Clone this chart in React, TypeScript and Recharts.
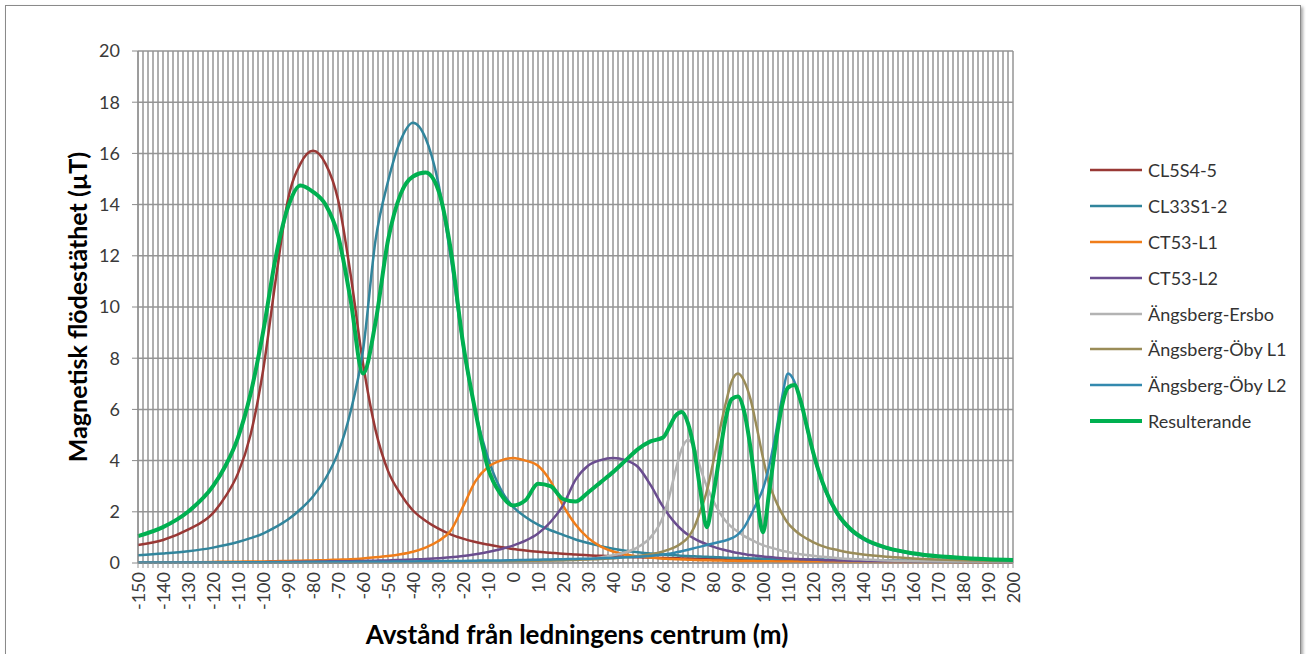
import React from 'react';
import { LineChart, Line, XAxis, YAxis, CartesianGrid, Legend } from 'recharts';

// Avstånd från ledningens centrum (m)
const distance = [
  -150, -140, -130, -120, -115, -110, -105, -100, -95, -90, -85, -80, -75, -70, -65, -60,
  -55, -50, -45, -40, -35, -30, -25, -20, -15, -10, -5, 0, 5, 10, 15, 20, 25, 30, 35, 40,
  45, 50, 55, 60, 62.5, 65, 67.5, 70, 72.5, 75, 77.5, 80, 82.5, 85, 87.5, 90, 92.5, 95,
  97.5, 100, 102.5, 105, 107.5, 110, 112.5, 115, 117.5, 120, 125, 130, 135, 140, 150,
  160, 170, 180, 190, 200,
];

// magnetisk flödestäthet (µT) per ledning
const cl5s45 = [
  0.7, 0.9, 1.3, 1.95, 2.6, 3.5, 5.0, 7.5, 11.0, 14.2, 15.6, 16.1, 15.6, 14.2, 11.3, 7.8,
  5.2, 3.6, 2.7, 2.05, 1.65, 1.35, 1.12, 0.95, 0.82, 0.72, 0.63, 0.55, 0.49, 0.44, 0.4, 0.36, 0.33, 0.3, 0.28, 0.26,
  0.24, 0.22, 0.21, 0.2, 0.19, 0.19, 0.18, 0.18, 0.17, 0.17, 0.16, 0.16, 0.15, 0.15, 0.15, 0.14, 0.14, 0.14,
  0.13, 0.13, 0.13, 0.12, 0.12, 0.12, 0.12, 0.11, 0.11, 0.11, 0.1, 0.1, 0.09, 0.09, 0.08,
  0.07, 0.07, 0.06, 0.06, 0.05,
];
const cl33s12 = [
  0.3, 0.37, 0.46, 0.6, 0.7, 0.82, 0.97, 1.15, 1.4, 1.7, 2.1, 2.6, 3.3, 4.3, 5.9, 8.3,
  12.6, 14.9, 16.5, 17.2, 16.6, 14.9, 12.0, 8.5, 5.9, 4.1, 2.9, 2.2, 1.8, 1.5, 1.28, 1.1, 0.92, 0.78, 0.66, 0.56,
  0.48, 0.42, 0.37, 0.33, 0.31, 0.3, 0.28, 0.27, 0.26, 0.25, 0.24, 0.23, 0.22, 0.21, 0.2, 0.2, 0.19, 0.18,
  0.18, 0.17, 0.17, 0.16, 0.16, 0.15, 0.15, 0.15, 0.14, 0.14, 0.13, 0.12, 0.12, 0.11, 0.1,
  0.09, 0.08, 0.07, 0.07, 0.06,
];
const ct53l1 = [
  0.02, 0.03, 0.03, 0.04, 0.05, 0.05, 0.06, 0.06, 0.07, 0.08, 0.09, 0.1, 0.11, 0.13, 0.15, 0.18,
  0.22, 0.27, 0.34, 0.44, 0.6, 0.85, 1.25, 2.2, 3.2, 3.75, 4.0, 4.1, 4.0, 3.8, 3.2, 2.25, 1.5, 0.98, 0.65, 0.45,
  0.33, 0.26, 0.21, 0.17, 0.16, 0.15, 0.14, 0.13, 0.12, 0.11, 0.11, 0.1, 0.1, 0.09, 0.09, 0.08, 0.08, 0.08,
  0.07, 0.07, 0.07, 0.06, 0.06, 0.06, 0.06, 0.05, 0.05, 0.05, 0.05, 0.04, 0.04, 0.04, 0.03,
  0.03, 0.03, 0.02, 0.02, 0.02,
];
const ct53l2 = [
  0.01, 0.01, 0.02, 0.02, 0.02, 0.03, 0.03, 0.03, 0.04, 0.04, 0.05, 0.05, 0.06, 0.07, 0.07, 0.08,
  0.09, 0.1, 0.12, 0.14, 0.16, 0.19, 0.22, 0.27, 0.34, 0.43, 0.54, 0.68, 0.87, 1.15, 1.6, 2.25, 3.25, 3.8, 4.02, 4.1,
  4.02, 3.75, 3.05, 2.2, 1.85, 1.55, 1.3, 1.1, 0.95, 0.83, 0.73, 0.64, 0.56, 0.5, 0.44, 0.39, 0.35, 0.31,
  0.28, 0.25, 0.23, 0.21, 0.19, 0.17, 0.16, 0.15, 0.14, 0.13, 0.11, 0.1, 0.09, 0.08, 0.07,
  0.06, 0.05, 0.04, 0.04, 0.03,
];
const angsbergErsbo = [
  0.01, 0.01, 0.01, 0.01, 0.01, 0.01, 0.02, 0.02, 0.02, 0.02, 0.02, 0.02, 0.02, 0.02, 0.02, 0.03,
  0.03, 0.03, 0.03, 0.03, 0.04, 0.04, 0.04, 0.05, 0.05, 0.05, 0.06, 0.06, 0.07, 0.08, 0.09, 0.1, 0.13, 0.16, 0.22, 0.3,
  0.42, 0.62, 1.0, 1.8, 2.6, 3.6, 4.45, 4.8, 4.5, 3.7, 3.0, 2.45, 2.0, 1.65, 1.4, 1.22, 1.05, 0.92,
  0.8, 0.7, 0.62, 0.55, 0.48, 0.43, 0.38, 0.34, 0.31, 0.28, 0.23, 0.19, 0.16, 0.14, 0.1,
  0.08, 0.06, 0.05, 0.05, 0.04,
];
const angsbergObyL1 = [
  0.01, 0.01, 0.01, 0.01, 0.01, 0.01, 0.01, 0.01, 0.02, 0.02, 0.02, 0.02, 0.02, 0.02, 0.02, 0.03,
  0.03, 0.03, 0.03, 0.04, 0.04, 0.04, 0.05, 0.05, 0.06, 0.06, 0.07, 0.07, 0.08, 0.09, 0.1, 0.11, 0.12, 0.14, 0.16, 0.19,
  0.22, 0.27, 0.34, 0.45, 0.53, 0.63, 0.78, 1.0, 1.4, 2.05, 2.8, 3.9, 5.1, 6.2, 7.1, 7.4, 7.1, 6.4,
  5.3, 4.1, 3.1, 2.45, 1.95, 1.55, 1.3, 1.1, 0.95, 0.82, 0.62, 0.5, 0.4, 0.33, 0.24,
  0.18, 0.14, 0.11, 0.09, 0.07,
];
const angsbergObyL2 = [
  0.02, 0.02, 0.02, 0.02, 0.02, 0.03, 0.03, 0.03, 0.03, 0.03, 0.03, 0.04, 0.04, 0.04, 0.04, 0.05,
  0.05, 0.05, 0.06, 0.06, 0.07, 0.07, 0.08, 0.08, 0.09, 0.1, 0.1, 0.11, 0.12, 0.13, 0.14, 0.15, 0.16, 0.17, 0.19, 0.2,
  0.22, 0.24, 0.27, 0.33, 0.36, 0.41, 0.46, 0.52, 0.58, 0.64, 0.7, 0.76, 0.82, 0.88, 0.97, 1.12, 1.4, 1.85,
  2.35, 2.9, 3.8, 5.0, 6.4, 7.4, 7.1, 6.35, 5.3, 4.3, 2.8, 1.85, 1.28, 0.93, 0.55,
  0.35, 0.24, 0.18, 0.14, 0.11,
];
const resulterande = [
  1.05, 1.4, 2.0, 3.0, 3.8, 4.9, 6.6, 9.0, 11.9, 13.9, 14.75, 14.5, 14.0, 12.8, 10.3, 7.4,
  9.4, 12.6, 14.4, 15.1, 15.25, 14.6, 12.3, 8.6, 5.9, 3.7, 2.7, 2.25, 2.45, 3.1, 3.0, 2.5, 2.4, 2.75, 3.15, 3.55,
  4.0, 4.45, 4.75, 4.9, 5.3, 5.75, 5.9, 5.45, 4.4, 2.8, 1.4, 2.6, 4.1, 5.6, 6.4, 6.5, 5.9, 4.5,
  2.6, 1.2, 2.8, 4.6, 6.1, 6.85, 6.95, 6.35, 5.35, 4.35, 2.85, 1.9, 1.33, 0.97, 0.58,
  0.38, 0.26, 0.2, 0.15, 0.12,
];

const series = [
  { key: 'cl5s45', name: 'CL5S4-5', values: cl5s45, color: '#993835', width: 2.5 },
  { key: 'cl33s12', name: 'CL33S1-2', values: cl33s12, color: '#31859c', width: 2.5 },
  { key: 'ct53l1', name: 'CT53-L1', values: ct53l1, color: '#f07d1a', width: 2.5 },
  { key: 'ct53l2', name: 'CT53-L2', values: ct53l2, color: '#6a4d8f', width: 2.5 },
  { key: 'ersbo', name: 'Ängsberg-Ersbo', values: angsbergErsbo, color: '#b3b3b3', width: 2.5 },
  { key: 'obyL1', name: 'Ängsberg-Öby L1', values: angsbergObyL1, color: '#9a8c58', width: 2.5 },
  { key: 'obyL2', name: 'Ängsberg-Öby L2', values: angsbergObyL2, color: '#3389ae', width: 2.5 },
  { key: 'result', name: 'Resulterande', values: resulterande, color: '#00b050', width: 4 },
];

const data = distance.map((x, i) => {
  const row: Record<string, number> = { x };
  series.forEach((s) => {
    row[s.key] = s.values[i];
  });
  return row;
});

// one category every 2 m, labelled every 10 m
const xTicks = Array.from({ length: 176 }, (_, i) => -150 + i * 2);
const yTicks = [0, 2, 4, 6, 8, 10, 12, 14, 16, 18, 20];

const DistanceTick = (props: any) => {
  const { x, y, payload } = props;
  if (payload.value % 10 !== 0) return <g />;
  return (
    <text
      x={x}
      y={y}
      transform={`rotate(-90 ${x} ${y})`}
      textAnchor="end"
      dominantBaseline="central"
      fontSize={18}
      fill="#3a3a3a"
    >
      {payload.value}
    </text>
  );
};

// legend in series order (Recharts would sort it by name)
const LegendList = () => (
  <div>
    {series.map((s) => (
      <div key={s.key} style={{ display: 'flex', alignItems: 'center', height: 35.9 }}>
        <svg width={52} height={8}>
          <line x1={0} y1={4} x2={52} y2={4} stroke={s.color} strokeWidth={s.width} />
        </svg>
        <span style={{ marginLeft: 6, fontSize: 18, color: '#333' }}>{s.name}</span>
      </div>
    ))}
  </div>
);

export default function App() {
  return (
    <div
      style={{
        position: 'absolute',
        left: 0,
        top: 0,
        width: 1306,
        height: 654,
        overflow: 'hidden',
        background: '#fff',
        fontFamily: 'Lato, "Open Sans", sans-serif',
      }}
    >
      <div
        style={{
          position: 'absolute',
          left: 5,
          top: 5,
          width: 1294,
          height: 700,
          border: '1px solid #8a8a8a',
          boxShadow: '2px 2px 3px rgba(0,0,0,0.35)',
        }}
      />
      <LineChart width={1306} height={654} data={data} margin={{ top: 51, right: 293, bottom: 31, left: 0 }}>
        <CartesianGrid stroke="#959595" strokeWidth={1.5} />
        <XAxis
          dataKey="x"
          type="number"
          domain={[-150, 200]}
          ticks={xTicks}
          interval={0}
          tick={<DistanceTick />}
          tickSize={5}
          tickMargin={4}
          tickLine={{ stroke: '#959595' }}
          axisLine={{ stroke: '#8a8a8a' }}
          height={60}
          label={{
            content: () => (
              <text x={577} y={634} textAnchor="middle" dominantBaseline="central" fontSize={26} fontWeight={700} fill="#000">
                Avstånd från ledningens centrum (m)
              </text>
            ),
          }}
        />
        <YAxis
          type="number"
          domain={[0, 20]}
          ticks={yTicks}
          width={138}
          tick={{ fontSize: 18, fill: '#3a3a3a' }}
          tickSize={6}
          tickMargin={12}
          tickLine={{ stroke: '#8a8a8a' }}
          axisLine={{ stroke: '#8a8a8a' }}
          label={{
            content: () => (
              <text
                x={77}
                y={307}
                transform="rotate(-90 77 307)"
                textAnchor="middle"
                dominantBaseline="central"
                fontSize={25}
                fontWeight={700}
                fill="#000"
              >
                Magnetisk flödestäthet (µT)
              </text>
            ),
          }}
        />
        <Legend
          layout="vertical"
          align="center"
          verticalAlign="middle"
          content={<LegendList />}
          wrapperStyle={{ left: 1090, top: 152, width: 214 }}
        />
        {series.map((s) => (
          <Line
            key={s.key}
            type="monotone"
            dataKey={s.key}
            name={s.name}
            stroke={s.color}
            strokeWidth={s.width}
            dot={false}
            activeDot={false}
            isAnimationActive={false}
          />
        ))}
      </LineChart>
    </div>
  );
}
